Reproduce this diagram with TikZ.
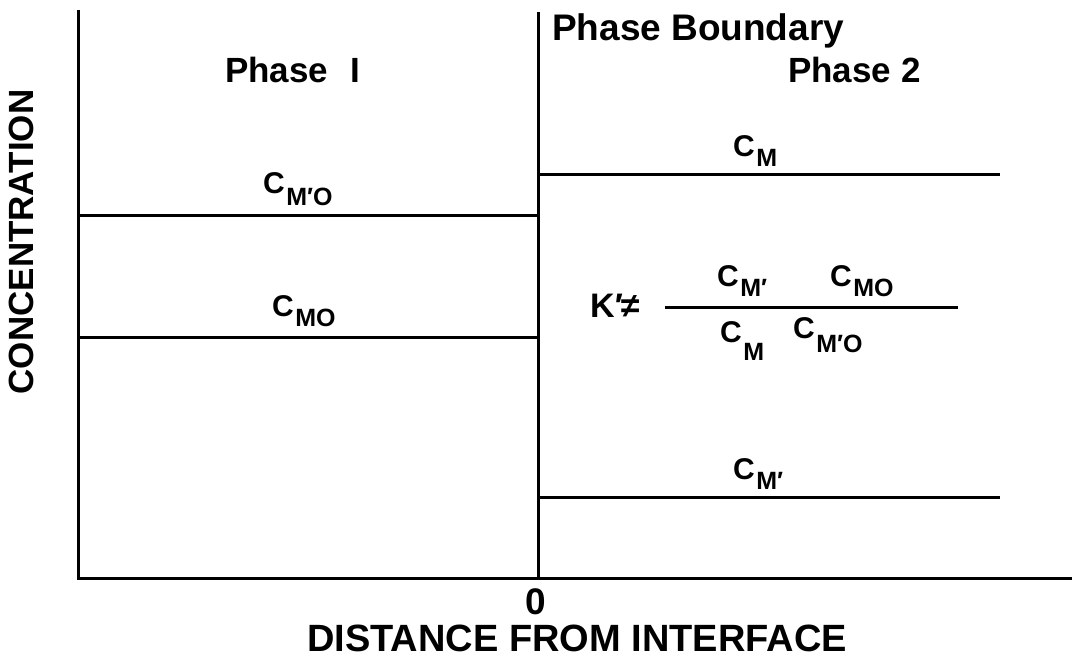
\documentclass[tikz,border=0pt]{standalone}
\usepackage{fontspec}
\setmainfont{Liberation Sans}
\newcommand{\Csub}[2][10pt]{C\kern1.5pt\raisebox{-#1}{\fontsize{25}{25}\selectfont #2}}
\begin{document}
\begin{tikzpicture}[x=1pt,y=-1pt,
  ln/.style={line width=3pt},
  lbl/.style={font=\fontsize{30}{30}\selectfont\bfseries, inner sep=0pt, anchor=base west},
  ttl/.style={font=\fontsize{35}{35}\selectfont\bfseries, inner sep=0pt}]
\useasboundingbox (0,0) rectangle (1072,659);
% axes
\coordinate (ytop) at (78,10);
\coordinate (orig) at (78,578);
\coordinate (xend) at (1072,578);
\coordinate (btop) at (538,12);
\coordinate (bbot) at (538,578);
\draw[ln] (ytop) -- (orig) -- (xend);
\draw[ln] (btop) -- (bbot);
% lines phase 1
\coordinate (a1) at (78,215); \coordinate (a2) at (538,215);
\coordinate (b1) at (78,337); \coordinate (b2) at (538,337);
\draw[ln] (a1) -- (a2);
\draw[ln] (b1) -- (b2);
% lines phase 2
\coordinate (c1) at (538,174); \coordinate (c2) at (1000,174);
\coordinate (d1) at (538,497); \coordinate (d2) at (1000,497);
\draw[ln] (c1) -- (c2);
\draw[ln] (d1) -- (d2);
% fraction bar
\coordinate (f1) at (665,307); \coordinate (f2) at (958,307);
\draw[ln] (f1) -- (f2);
% labels
\node[ttl, anchor=base west, font=\fontsize{37}{37}\selectfont\bfseries] (pb) at (552,40) {Phase Boundary};
\node[ttl, anchor=base west] (p1) at (225,82) {Phase\kern22pt I};
\node[ttl, anchor=base west] (p2) at (788,82) {Phase 2};
\node[ttl, rotate=90, anchor=base] (conc) at (34,242) {CONCENTRATION};
\node[ttl, anchor=base, font=\fontsize{38}{38}\selectfont\bfseries] (dist) at (577,651) {DISTANCE FROM INTERFACE};
\node[ttl, anchor=base, font=\fontsize{37}{37}\selectfont\bfseries] (zero) at (536,614) {0};
\node[lbl] (cm) at (733,156) {\Csub{M}};
\node[lbl] (cmpo) at (263,193) {\Csub[12pt]{M′O}};
\node[lbl] (cmo) at (272,316) {\Csub{MO}};
\node[lbl] (cmp) at (733,479) {\Csub{M′}};
\node[lbl, font=\fontsize{34}{34}\selectfont\bfseries] (k) at (590,317) {K′\kern-2pt≠};
\node[lbl] (n1) at (717,286) {\Csub{M′}};
\node[lbl] (n2) at (830,286) {\Csub{MO}};
\node[lbl] (d1l) at (720,342) {\Csub[18pt]{M}};
\node[lbl] (d2l) at (793,338) {\Csub[14pt]{M′O}};
\end{tikzpicture}
\end{document}
